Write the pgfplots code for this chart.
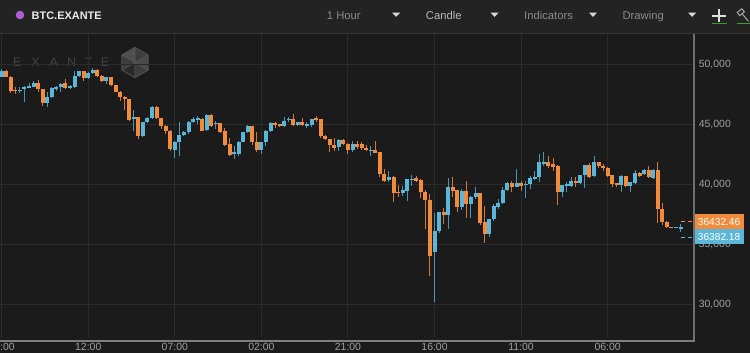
\documentclass[border=0pt]{standalone}
\usepackage{pgfplots}
\pgfplotsset{compat=1.18}
\usepackage{pgfplotstable}
\usepackage{fontspec}
\setmainfont{Liberation Sans}
\definecolor{bgchart}{HTML}{1B1B1B}
\definecolor{bgbar}{HTML}{232323}
\definecolor{sepline}{HTML}{363636}
\definecolor{gridc}{HTML}{2B2B2B}
\definecolor{upc}{HTML}{5AB7DA}
\definecolor{dnc}{HTML}{F28C3C}
\definecolor{axisc}{HTML}{6E6E6E}
\definecolor{axisb}{HTML}{7E7E7E}
\definecolor{labc}{HTML}{A0A0A0}
\definecolor{purp}{HTML}{B05CD6}
\definecolor{wm}{HTML}{434343}
\definecolor{greenul}{HTML}{3A9A3A}

% up (blue) candles: index, open, high, low, close
\pgfplotstableread{
i o h l c
0 48950 49600 48900 49450
4 47780 48050 47560 47880
5 47920 48200 46870 48060
6 48060 48450 48000 48170
7 48110 48610 48050 48390
10 46730 47640 46450 47280
11 47230 48110 47170 47980
12 47980 48200 47780 48110
13 48110 48390 47640 48340
15 48000 48250 47950 48170
16 48060 49390 48000 49030
17 49030 49450 48950 49390
19 48810 49300 48780 49230
20 49230 49640 49200 49530
23 48560 48950 48300 48890
29 45500 46170 44390 45560
31 43970 45200 43900 45140
32 45140 45600 45100 45500
33 45500 46500 45450 46450
38 42840 43600 42140 43530
39 43480 45200 42360 44110
40 44090 44450 44000 44360
41 44310 45250 44200 45200
42 45200 45560 45090 45420
43 45400 45640 45000 45450
45 44500 45850 44450 45780
47 45050 45280 44590 45100
51 42600 43200 42090 42650
52 42500 43600 42310 43530
53 43530 44350 43500 44310
54 44310 44920 44250 44810
57 42840 43550 42500 43530
58 43530 44500 43140 44450
59 44450 45200 44310 45090
62 44810 45560 44720 45280
63 45380 45560 45140 45420
65 44920 45200 44880 45140
67 44900 45140 44640 44950
68 44920 45450 44720 45420
74 43060 43750 42780 43700
77 42840 43610 42640 43340
81 42820 43200 42360 42850
85 40340 41060 40140 40610
88 39250 39860 39030 39500
89 39390 40450 38560 40420
90 40400 40750 39860 40440
95 34310 37560 30140 36060
96 36060 37700 35900 37640
98 37450 40500 36250 39780
101 38060 39590 37840 39390
103 38340 39000 37170 38950
104 38890 39780 38750 39230
107 35840 37120 35610 37090
108 37090 38340 36950 38200
109 38060 38750 37920 38390
110 38390 39780 38350 39500
111 39500 40140 39390 40060
113 39780 41250 39720 40060
115 39950 40280 38840 40000
116 40000 40700 39590 40480
117 40480 41110 40360 40610
118 40560 42500 40200 41810
119 41750 42640 41530 41790
123 39360 39950 38890 39920
124 39920 40200 39310 40000
125 39860 40560 39720 40280
127 40060 40800 40000 40780
128 40780 41620 39640 41590
130 40640 42310 40560 41810
136 39920 40750 39310 40700
138 39860 40200 39360 40140
139 40090 41200 40050 40920
141 40840 41250 40780 41200
143 40500 41250 40420 41170
148 36400 36420 36390 36410
149 36300 36700 36030 36380
}\upt

% down (orange) candles: index, open, high, low, close
\pgfplotstableread{
i o h l c
1 49400 49500 48900 48950
2 48950 49000 47560 47780
3 47850 48100 47500 47780
8 48390 48670 47640 47920
9 47920 47950 46530 46730
14 48390 48780 47950 48000
18 49390 49420 48610 48840
21 49530 49600 48950 48980
22 48980 49050 48500 48560
24 48890 48950 48200 48280
25 48230 48250 47650 47700
26 47700 47750 46950 47230
27 47280 47300 46200 47090
28 47090 47120 45300 45360
30 45560 45600 43750 43970
34 46450 46480 45450 45500
35 45500 45550 44600 44860
36 44860 44900 44200 44450
37 44450 44500 42800 42920
44 45420 45500 44400 44450
46 45780 45850 44800 44860
48 45060 45100 44300 44360
49 44450 44640 43200 43250
50 43340 43810 42350 42420
55 44810 44850 43250 43480
56 43530 44360 42640 42860
60 45050 45200 44640 44980
61 45000 45050 44750 44810
64 45420 45840 44880 44920
66 45140 45470 44810 44920
69 45450 45640 45200 45400
70 45420 45450 43810 44030
71 44030 44080 43700 43750
72 43750 43800 42640 43250
73 43250 43810 42780 42980
75 43700 43750 43280 43340
76 43340 43400 42500 42840
78 43370 43560 42900 43080
79 43340 43480 42840 43000
80 43000 43280 42780 42840
82 42840 43610 42550 42590
83 42640 42700 40560 40840
84 40840 41250 40140 40280
86 40610 40650 38480 39250
87 39330 39950 38890 39290
91 40500 40700 40140 40280
92 40340 40400 38840 39310
93 39310 39500 36250 38670
94 38670 39170 32360 34030
97 37640 38000 36670 37450
99 39780 40610 38950 39390
100 39500 39550 37700 38110
102 39390 40230 37170 38340
105 39230 39260 36610 36750
106 36810 38200 35060 35840
112 40060 40230 39310 39780
114 40060 40280 39390 39860
120 41810 42360 41310 41480
121 41670 42140 41110 41390
122 41530 41600 38250 39360
126 40280 40560 39720 40060
129 41590 41750 40480 40560
131 41810 41860 41310 41480
132 41530 41670 41110 41310
133 41340 41400 40560 40700
134 40780 40800 39780 40000
135 40060 40100 39780 39920
137 40640 40700 39720 39860
140 40920 41030 40610 40700
142 41200 41530 40480 40560
144 41170 41810 36720 37920
145 37920 38390 36590 36860
146 36860 36900 36310 36430
147 36430 36450 36400 36410
}\dnt

\pgfplotsset{
  candle/.style 2 args={only marks, mark=none, mark size=0pt,
    mark options={draw=none, fill=none},
    error bars/.cd, y dir=both, y explicit, error mark=none,
    error bar style={draw=#1, line width=#2, solid}},
}

\begin{document}
\begin{tikzpicture}[x=1bp,y=1bp]
\useasboundingbox (0,0) rectangle (750,353);
\fill[bgchart] (0,0) rectangle (750,353);
\fill[bgbar] (0,320) rectangle (750,353);
\draw[sepline, line width=1bp] (0,319.7) -- (750,319.7);

% toolbar
\fill[purp] (20,338) circle (4.3);
\node[anchor=base west, inner sep=0, text=white!92!black, font=\bfseries\fontsize{11}{13}\selectfont] at (31.5,333.6) {BTC.EXANTE};
\node[anchor=base west, inner sep=0, text=black!45!white, font=\fontsize{11.3}{13}\selectfont] at (326.7,333.6) {1 Hour};
\node[anchor=base west, inner sep=0, text=black!28!white, font=\fontsize{11.3}{13}\selectfont] at (425.7,333.6) {Candle};
\node[anchor=base west, inner sep=0, text=black!46!white, font=\fontsize{11.3}{13}\selectfont] at (524,333.6) {Indicators};
\node[anchor=base west, inner sep=0, text=black!46!white, font=\fontsize{11.3}{13}\selectfont] at (622.3,333.6) {Drawing};
\foreach \tx in {396.2,494.5,593,692.2}{
  \fill[black!15!white] (\tx-4,340.3) -- (\tx+4,340.3) -- (\tx,336.2) -- cycle;
}
\draw[black!12!white, line width=1.4bp] (712.3,337) -- (725.7,337) (719,330.5) -- (719,343.5);
\draw[greenul, line width=1.2bp] (711.7,329.6) -- (726.7,329.6);
\begin{scope}[shift={(744,337)}, rotate=40]
  \draw[black!35!white, line width=1bp] (-3,3) rectangle (3,7);
  \draw[black!35!white, line width=1bp] (0,3) -- (0,-7);
\end{scope}
\draw[greenul, line width=1.2bp] (736.7,329.6) -- (750,329.6);

% watermark
\foreach \lx/\lt in {17.3/E,35.5/X,53.8/A,71.7/N,88.8/T,105/E}{
  \node[text=wm, inner sep=0, font=\fontsize{12.5}{14}\selectfont] at (\lx,290.5) {\lt};
}
\begin{scope}[shift={(135,290.5)}]
  \fill[black!76!white] (90:15.2) -- (150:15.2) -- (210:15.2) -- (270:15.2) -- (330:15.2) -- (30:15.2) -- cycle;
  \fill[black!69!white] (0,0) -- (90:15.2) -- (150:15.2) -- cycle;
  \fill[black!84!white] (0,0) -- (210:15.2) -- (270:15.2) -- cycle;
  \fill[black!71!white] (0,0) -- (330:15.2) -- (30:15.2) -- cycle;
  \draw[black!68!white, line width=0.8bp] (90:15.2) -- (150:15.2) -- (210:15.2) -- (270:15.2) -- (330:15.2) -- (30:15.2) -- cycle;
  \draw[black!65!white, line width=0.6bp] (90:15.2) -- (270:15.2) (150:15.2) -- (330:15.2) (210:15.2) -- (30:15.2);
\end{scope}

\begin{axis}[
  at={(0,13)}, anchor=south west,
  scale only axis, width=694bp, height=306bp,
  xmin=-0.373, xmax=151.95, ymin=27225, ymax=52725,
  axis line style={draw=none},
  major tick length=0pt,
  xtick={0,19,38,57,76,95,114,133},
  xticklabels={17:00,12:00,07:00,02:00,21:00,16:00,11:00,06:00},
  ytick={30000,35000,40000,45000,50000},
  scaled y ticks=false,
  yticklabel pos=right,
  /pgf/number format/1000 sep={,},
  /pgf/number format/assume math mode=true,
  ticklabel style={font=\fontsize{10.5}{12}\selectfont, text=labc},
  yticklabel style={anchor=west, xshift=1.3bp, text height=7.5bp, text depth=0bp},
  xticklabel style={anchor=north, yshift=-2bp, text height=7.5bp, text depth=0bp},
  grid=major,
  major grid style={draw=gridc, line width=1bp},
]
% wicks
\addplot[candle={upc!82!black}{1bp}]
  table[x=i, y expr={(\thisrow{h}+\thisrow{l})/2}, y error expr={(\thisrow{h}-\thisrow{l})/2}] \upt;
\addplot[candle={dnc!86!black}{1bp}]
  table[x=i, y expr={(\thisrow{h}+\thisrow{l})/2}, y error expr={(\thisrow{h}-\thisrow{l})/2}] \dnt;
% bodies
\addplot[candle={upc}{4bp}]
  table[x=i, y expr={(\thisrow{o}+\thisrow{c})/2}, y error expr={max(abs(\thisrow{c}-\thisrow{o})/2,45)}] \upt;
\addplot[candle={dnc}{4bp}]
  table[x=i, y expr={(\thisrow{o}+\thisrow{c})/2}, y error expr={max(abs(\thisrow{c}-\thisrow{o})/2,45)}] \dnt;
\end{axis}

% axis lines
\draw[axisc, line width=1.5bp] (693.9,12) -- (693.9,319.2);
\draw[axisb, line width=2bp] (0,12.2) -- (694.6,12.2);

% last price labels
\draw[dnc, line width=1bp, dash pattern=on 4bp off 3bp] (681,131.3) -- (694,131.3);
\draw[upc, line width=1bp, dash pattern=on 4bp off 3bp] (681,115.9) -- (694,115.9);
\fill[dnc] (694.6,124) rectangle (744.3,138.7);
\node[anchor=west, inner sep=0, text=white, text height=7.3bp, text depth=0bp, font=\fontsize{10.2}{12}\selectfont] at (697.7,131.4) {36432.46};
\fill[upc] (694.6,109) rectangle (744.3,123.7);
\node[anchor=west, inner sep=0, text=white, text height=7.3bp, text depth=0bp, font=\fontsize{10.2}{12}\selectfont] at (697.7,116.3) {36382.18};
\end{tikzpicture}
\end{document}
